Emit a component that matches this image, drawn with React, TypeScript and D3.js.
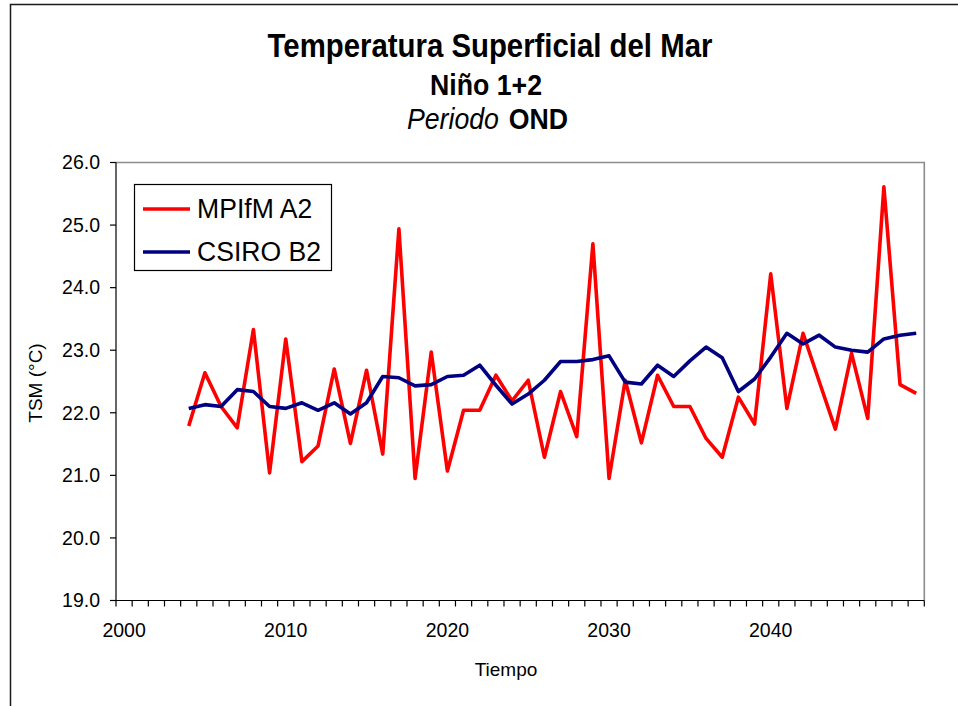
import React from "react";
import * as d3 from "d3";

const years: number[] = d3.range(2000, 2050);
const seriesYears: number[] = d3.range(2004, 2050);

const mpifmA2: number[] = [
  21.79, 22.64, 22.10, 21.76, 23.33, 21.04, 23.18, 21.22, 21.47, 22.70,
  21.51, 22.68, 21.34, 24.94, 20.95, 22.97, 21.07, 22.04, 22.04, 22.60,
  22.19, 22.52, 21.29, 22.34, 21.62, 24.70, 20.95, 22.52, 21.52, 22.60,
  22.10, 22.10, 21.59, 21.29, 22.25, 21.82, 24.22, 22.07, 23.27, 22.50,
  21.74, 22.95, 21.91, 25.61, 22.45, 22.31,
];

const csiroB2: number[] = [
  22.07, 22.13, 22.10, 22.37, 22.34, 22.10, 22.07, 22.16, 22.04, 22.16,
  21.98, 22.16, 22.58, 22.56, 22.43, 22.45, 22.58, 22.60, 22.76, 22.44,
  22.14, 22.30, 22.52, 22.82, 22.82, 22.85, 22.91, 22.49, 22.46, 22.76,
  22.58, 22.83, 23.05, 22.88, 22.34, 22.54, 22.89, 23.27, 23.10, 23.24,
  23.05, 23.00, 22.97, 23.18, 23.24, 23.27,
];

const yTicks: number[] = [19, 20, 21, 22, 23, 24, 25, 26];
const xLabelYears: number[] = [2000, 2010, 2020, 2030, 2040];

const seriesNames = ["MPIfM A2", "CSIRO B2"];
const seriesColors = ["#ff0000", "#000080"];

const FONT = "'Liberation Sans', Arial, Helvetica, sans-serif";

export default function App() {
  const left = 116;
  const right = 924.3;
  const top = 162.5;
  const bottom = 600.5;

  const x = d3.scaleBand<number>().domain(years).range([left, right]).paddingInner(0).paddingOuter(0);
  const y = d3.scaleLinear().domain([19, 26]).range([bottom, top]);
  const bw = x.bandwidth();
  const cx = (yr: number) => (x(yr) as number) + bw / 2;

  const line = d3
    .line<number>()
    .x((_, i) => cx(seriesYears[i]))
    .y((d) => y(d));

  const series = [mpifmA2, csiroB2];

  const boundaries = d3.range(0, years.length + 1).map((i) => left + i * bw);

  return (
    <svg
      width={958}
      height={706}
      style={{ position: "absolute", left: 0, top: 0, background: "#fff" }}
      fontFamily={FONT}
    >
      <rect x={0} y={0} width={958} height={706} fill="#fff" />
      {/* outer frame */}
      <rect x={10.5} y={4.5} width={1000} height={800} fill="none" stroke="#1a1a1a" strokeWidth={1.5} />

      {/* titles */}
      <g transform="translate(490,57) scale(0.89,1)">
        <text x={0} y={0} textAnchor="middle" fontSize={33} fontWeight="bold" fill="#000">
          Temperatura Superficial del Mar
        </text>
      </g>
      <g transform="translate(486,95) scale(0.89,1)">
        <text x={0} y={0} textAnchor="middle" fontSize={30} fontWeight="bold" fill="#000">
          Niño 1+2
        </text>
      </g>
      <g transform="translate(487.5,129) scale(0.89,1)">
        <text x={0} y={0} textAnchor="middle" fill="#000" fontSize={30}>
          <tspan fontStyle="italic">Periodo</tspan>
          <tspan fontWeight="bold" dx={11}>OND</tspan>
        </text>
      </g>

      {/* plot border (top/right gray) */}
      <path d={`M${left},${top}H${right}V${bottom}`} fill="none" stroke="#8c8c8c" strokeWidth={1.6} />

      {/* y axis */}
      <line x1={left} x2={left} y1={top} y2={bottom} stroke="#000" strokeWidth={1.2} />
      {yTicks.map((t) => (
        <g key={t}>
          <line x1={left - 6} x2={left} y1={y(t)} y2={y(t)} stroke="#000" strokeWidth={1.2} />
          <text x={100} y={y(t)} dy="0.35em" textAnchor="end" fontSize={19.5} fill="#000">
            {t.toFixed(1)}
          </text>
        </g>
      ))}

      {/* x axis */}
      <line x1={left} x2={right} y1={bottom} y2={bottom} stroke="#000" strokeWidth={1.2} />
      {boundaries.map((bx, i) => (
        <line key={i} x1={bx} x2={bx} y1={bottom} y2={bottom + 6} stroke="#000" strokeWidth={1.2} />
      ))}
      {xLabelYears.map((yr) => (
        <text key={yr} x={cx(yr)} y={636.5} textAnchor="middle" fontSize={19.5} fill="#000">
          {yr}
        </text>
      ))}

      {/* axis titles */}
      <text x={506} y={676} textAnchor="middle" fontSize={19} fill="#000">
        Tiempo
      </text>
      <text
        transform={`translate(42,${383}) rotate(-90)`}
        textAnchor="middle"
        fontSize={19}
        fill="#000"
      >
        TSM (°C)
      </text>

      {/* series */}
      {series.map((s, k) => (
        <path
          key={k}
          d={line(s) as string}
          fill="none"
          stroke={seriesColors[k]}
          strokeWidth={3.6}
          strokeLinejoin="round"
        />
      ))}

      {/* legend */}
      <rect x={134.5} y={184.5} width={197} height={86} fill="#fff" stroke="#000" strokeWidth={1.2} />
      {seriesNames.map((n, k) => {
        const ly = 209 + k * 43;
        return (
          <g key={n}>
            <line x1={143} x2={190} y1={ly} y2={ly} stroke={seriesColors[k]} strokeWidth={3.6} />
            <g transform={`translate(197,${ly + 9}) scale(0.95,1)`}>
              <text x={0} y={0} fontSize={28} fill="#000">
                {n}
              </text>
            </g>
          </g>
        );
      })}
    </svg>
  );
}
